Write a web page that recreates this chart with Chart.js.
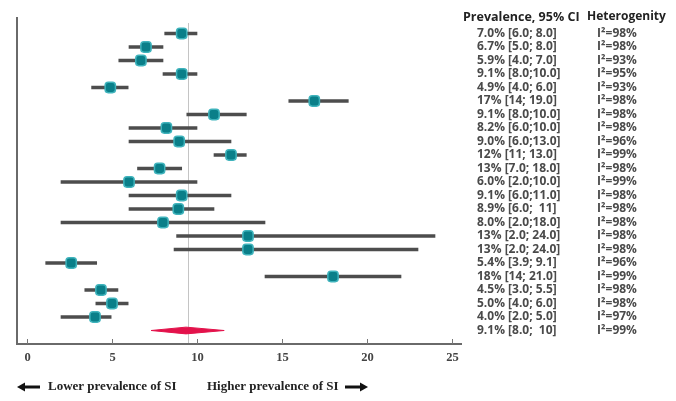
<!DOCTYPE html>
<html>
<head>
<meta charset="utf-8">
<script src="https://cdn.jsdelivr.net/npm/chart.js@4"></script>
<style>
  html, body { margin: 0; padding: 0; background: #fff; }
  #wrap { width: 676px; height: 401px; position: relative; }
</style>
</head>
<body>
<div id="wrap"><canvas id="c" width="676" height="401"></canvas></div>
<script>
// ---- data ----
const estimates = [9.1, 7.0, 6.7, 9.1, 4.9, 16.9, 11.0, 8.2, 8.95, 12.0, 7.8, 6.0, 9.1, 8.9, 8.0, 13.0, 13.0, 2.6, 18.0, 4.35, 5.0, 4.0];
const lowerCI   = [8.1, 6.0, 5.4, 8.0, 3.8, 15.4, 9.4, 6.0, 6.0, 11.0, 6.5, 2.0, 6.0, 6.0, 2.0, 8.8, 8.65, 1.1, 14.0, 3.4, 4.05, 2.0];
const upperCI   = [10.0, 8.0, 8.0, 10.0, 5.95, 18.9, 12.9, 10.0, 12.0, 12.9, 9.1, 10.0, 12.0, 11.0, 14.0, 24.0, 23.0, 4.1, 22.0, 5.35, 5.95, 4.95];
const pooled    = { est: 9.35, lo: 7.3, hi: 11.6 };
const referenceValue = 9.5;
const xTicks = [0, 5, 10, 15, 20, 25];

const prevalenceLabels = [
  "7.0% [6.0; 8.0]", "6.7% [5.0; 8.0]", "5.9% [4.0; 7.0]", "9.1% [8.0;10.0]",
  "4.9% [4.0; 6.0]", "17% [14; 19.0]", "9.1% [8.0;10.0]", "8.2% [6.0;10.0]",
  "9.0% [6.0;13.0]", "12% [11; 13.0]", "13% [7.0; 18.0]", "6.0% [2.0;10.0]",
  "9.1% [6.0;11.0]", "8.9% [6.0;  11]", "8.0% [2.0;18.0]", "13% [2.0; 24.0]",
  "13% [2.0; 24.0]", "5.4% [3.9; 9.1]", "18% [14; 21.0]", "4.5% [3.0; 5.5]",
  "5.0% [4.0; 6.0]", "4.0% [2.0; 5.0]", "9.1% [8.0;  10]"
];
const heterogeneity = [98, 98, 93, 95, 93, 98, 98, 98, 96, 99, 98, 99, 98, 98, 98, 98, 98, 96, 99, 98, 98, 97, 99];
const headerPrev = "Prevalence, 95% CI";
const headerHet = "Heterogenity";
const leftNote = "Lower prevalence of SI";
const rightNote = "Higher prevalence of SI";

// ---- build datasets ----
const rows = estimates.map((_, i) => i + 1);
const pooledRow = estimates.length + 1;

const ciData = rows.map((r, i) => ({ y: r, x: [lowerCI[i], upperCI[i]] }));
const pointData = rows.map((r, i) => ({ x: estimates[i], y: r }));
const dh = 0.25;
const diamondData = [
  { x: pooled.lo, y: pooledRow },
  { x: pooled.est, y: pooledRow - dh },
  { x: pooled.hi, y: pooledRow },
  { x: pooled.est, y: pooledRow + dh },
  { x: pooled.lo, y: pooledRow }
];

const decorPlugin = {
  id: 'decor',
  beforeDatasetsDraw(chart) {
    const { ctx, chartArea: a, scales: { x } } = chart;
    ctx.save();
    const rx = Math.round(x.getPixelForValue(referenceValue)) + 0.5;
    ctx.strokeStyle = '#c4c4c4';
    ctx.lineWidth = 1;
    ctx.beginPath();
    ctx.moveTo(rx, a.top + 3);
    ctx.lineTo(rx, a.bottom);
    ctx.stroke();
    ctx.restore();
  },
  afterDraw(chart) {
    const { ctx, chartArea: a, scales: { x, y } } = chart;
    ctx.save();
    // axes
    ctx.strokeStyle = '#6a6a6a';
    ctx.lineWidth = 2;
    ctx.beginPath();
    ctx.moveTo(a.left, a.top - 3);
    ctx.lineTo(a.left, a.bottom);
    ctx.lineTo(a.right, a.bottom);
    ctx.stroke();
    ctx.lineWidth = 1;
    ctx.strokeStyle = '#777';
    ctx.fillStyle = '#444';
    ctx.font = 'bold 12.5px "Liberation Serif", serif';
    ctx.textAlign = 'center';
    ctx.textBaseline = 'middle';
    xTicks.forEach(t => {
      const px = Math.round(x.getPixelForValue(t)) + 0.5;
      ctx.beginPath();
      ctx.moveTo(px, a.bottom - 5);
      ctx.lineTo(px, a.bottom);
      ctx.stroke();
      ctx.fillText(String(t), px, a.bottom + 14);
    });

    // bottom notes with arrows
    const ny = 387;
    ctx.fillStyle = '#222';
    ctx.strokeStyle = '#111';
    ctx.font = 'bold 13px "Liberation Serif", serif';
    ctx.textAlign = 'left';
    ctx.fillText(leftNote, 48, ny);
    ctx.fillText(rightNote, 207, ny);
    function arrow(x0, x1) {
      const dir = Math.sign(x1 - x0);
      ctx.lineWidth = 3;
      ctx.beginPath();
      ctx.moveTo(x0, ny);
      ctx.lineTo(x1 - dir * 5, ny);
      ctx.stroke();
      ctx.beginPath();
      ctx.moveTo(x1, ny);
      ctx.lineTo(x1 - dir * 8, ny - 4.5);
      ctx.lineTo(x1 - dir * 8, ny + 4.5);
      ctx.closePath();
      ctx.fillStyle = '#111';
      ctx.fill();
    }
    arrow(40, 17);
    arrow(345, 368);

    // right-side table
    ctx.textBaseline = 'middle';
    ctx.fillStyle = '#222';
    ctx.font = 'bold 12.5px "Open Sans", sans-serif';
    ctx.fillText(headerPrev, 463, 17);
    ctx.font = 'bold 12px "Open Sans", sans-serif';
    ctx.fillText(headerHet, 587, 17);
    ctx.fillStyle = '#4a4a4a';
    ctx.font = 'bold 12px "Open Sans", sans-serif';
    prevalenceLabels.forEach((lab, i) => {
      const py = y.getPixelForValue(i + 1);
      ctx.fillText(lab, 477, py);
      ctx.fillText('I\u00B2=' + heterogeneity[i] + '%', 597, py);
    });
    ctx.restore();
  }
};

new Chart(document.getElementById('c'), {
  data: {
    datasets: [
      {
        type: 'bar',
        indexAxis: 'y',
        data: ciData,
        backgroundColor: '#4d4d4d',
        borderWidth: 0,
        barThickness: 3,
        order: 3
      },
      {
        type: 'scatter',
        data: pointData,
        pointStyle: 'rectRounded',
        pointRadius: 6,
        pointHoverRadius: 6,
        backgroundColor: '#0a7f89',
        borderColor: '#3fb3bc',
        borderWidth: 1.5,
        order: 1
      },
      {
        type: 'line',
        data: diamondData,
        borderColor: '#e3124b',
        backgroundColor: '#e3124b',
        borderWidth: 1,
        pointRadius: 0,
        tension: 0,
        fill: 'shape',
        order: 2
      }
    ]
  },
  options: {
    responsive: false,
    animation: false,
    events: [],
    layout: { padding: { left: 17, right: 214, top: 20, bottom: 57 } },
    plugins: { legend: { display: false }, tooltip: { enabled: false } },
    scales: {
      x: { type: 'linear', min: -10 / 17, max: 25 + 10 / 17, display: false, offset: false, grace: 0 },
      y: { type: 'linear', min: 0, max: 24, reverse: true, display: false, offset: false, grace: 0 }
    }
  },
  plugins: [decorPlugin]
});
</script>
</body>
</html>
